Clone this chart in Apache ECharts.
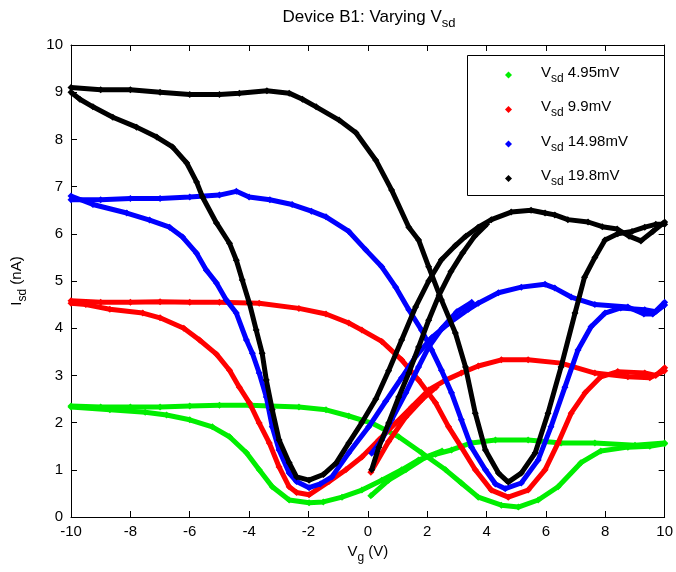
<!DOCTYPE html>
<html>
<head>
<meta charset="utf-8">
<script src="https://cdn.jsdelivr.net/npm/echarts@6/dist/echarts.min.js"></script>
<style>html,body{margin:0;padding:0;background:#fff;}#c{width:676px;height:572px;}</style>
</head>
<body>
<div id="c"></div>
<script>
// ---- data ----
const xTicks = [-10, -8, -6, -4, -2, 0, 2, 4, 6, 8, 10];
const vsdLabels = ['4.95mV', '9.9mV', '14.98mV', '19.8mV'];
const seriesColors = ['#00ee00', '#ff0000', '#0000ff', '#000000'];

// green, Vsd 4.95 mV
const greenSweepA = [[-10,2.35],[-9,2.33],[-8,2.33],[-7,2.33],[-6,2.35],[-5,2.37],[-3.99,2.37],[-2.32,2.33],[-1.41,2.27],[-0.64,2.14],[0.13,1.99],[1.04,1.7],[1.81,1.36],[2.62,1.0],[3.15,0.72],[3.72,0.42],[4.5,0.25],[5.07,0.21],[5.74,0.36],[6.41,0.64],[7.18,1.15],[7.85,1.4],[8.76,1.48],[9.5,1.5],[10,1.55]];
const greenSweepB = [[10,1.57],[9,1.52],[7.65,1.57],[6.51,1.57],[5.4,1.63],[4.3,1.63],[3.49,1.57],[2.82,1.42],[2.28,1.33],[1.71,1.21],[1.14,1.0],[0.47,0.78],[-0.2,0.57],[-0.87,0.42],[-1.5,0.32],[-1.98,0.3],[-2.65,0.36],[-3.22,0.64],[-3.66,1.0],[-4.09,1.36],[-4.66,1.7],[-5.24,1.91],[-6.0,2.06],[-6.78,2.16],[-7.5,2.22],[-8.69,2.27],[-10,2.33]];
const greenStart = [[0.1,0.45],[0.7,0.78],[1.28,1.0],[1.95,1.27],[2.5,1.4]];

// red, Vsd 9.9 mV
const redSweepA = [[-10,4.58],[-9,4.55],[-8,4.55],[-7,4.56],[-6,4.55],[-5,4.55],[-3.66,4.53],[-2.32,4.42],[-1.41,4.3],[-0.64,4.11],[-0.2,3.96],[0.47,3.72],[1.14,3.33],[1.71,2.9],[2.28,2.42],[2.72,1.91],[3.15,1.48],[3.62,1.0],[4.16,0.57],[4.73,0.42],[5.4,0.57],[5.97,1.0],[6.41,1.57],[6.85,2.2],[7.32,2.63],[7.85,2.97],[8.42,3.08],[9.33,3.05],[9.7,3.0],[10,3.16]];
const redSweepB = [[10,3.1],[9.5,2.95],[8.76,2.97],[7.65,3.05],[6.51,3.26],[5.4,3.33],[4.5,3.33],[3.72,3.2],[3.15,3.05],[2.62,2.9],[2.05,2.69],[1.48,2.33],[0.94,1.99],[0.37,1.63],[-0.2,1.27],[-0.74,1.0],[-1.31,0.75],[-1.98,0.47],[-2.4,0.52],[-2.65,0.64],[-2.99,1.06],[-3.32,1.57],[-3.66,1.99],[-3.99,2.42],[-4.33,2.75],[-4.66,3.11],[-5.1,3.45],[-5.67,3.75],[-6.2,4.0],[-7.0,4.22],[-7.58,4.32],[-8.69,4.4],[-9.5,4.5],[-10,4.53]];
const redStart = [[0.1,0.95],[0.7,1.6],[1.28,2.12],[1.81,2.48],[2.3,2.75]];

// blue, Vsd 14.98 mV
const blueSweepA = [[-10,6.72],[-9,6.72],[-8,6.75],[-7,6.75],[-6,6.78],[-5,6.82],[-4.43,6.9],[-4,6.78],[-3.3,6.72],[-2.55,6.62],[-1.9,6.48],[-1.41,6.36],[-0.64,6.05],[-0.07,5.66],[0.47,5.3],[0.94,4.87],[1.38,4.39],[1.81,3.96],[2.15,3.54],[2.48,3.11],[2.82,2.63],[3.15,2.06],[3.49,1.48],[3.96,1.0],[4.3,0.7],[4.63,0.6],[5.17,0.72],[5.74,1.21],[6.17,1.91],[6.64,2.75],[7.08,3.54],[7.52,4.03],[7.99,4.32],[8.52,4.43],[9.33,4.39],[9.7,4.35],[10,4.49]];
const blueSweepB = [[10,4.55],[9.6,4.3],[9.3,4.3],[8.76,4.45],[7.65,4.5],[6.85,4.66],[6.3,4.85],[5.97,4.93],[5.17,4.87],[4.4,4.75],[3.72,4.53],[3.39,4.4],[2.72,4.1],[2.15,3.8],[1.61,3.4],[1.14,2.95],[0.6,2.45],[0.03,1.91],[-0.64,1.36],[-1.21,0.85],[-1.6,0.7],[-1.98,0.62],[-2.4,0.75],[-2.65,0.93],[-2.99,1.42],[-3.22,1.91],[-3.42,2.54],[-3.66,3.05],[-3.89,3.47],[-4.09,3.75],[-4.43,4.32],[-4.77,4.6],[-5.1,4.96],[-5.44,5.23],[-5.77,5.59],[-6.24,5.93],[-6.68,6.14],[-7.35,6.29],[-8.12,6.44],[-9.26,6.62],[-10,6.8]];
const blueStart = [[0.13,1.35],[0.47,1.63],[0.8,2.06],[1.28,2.63],[1.71,3.18],[2.05,3.6],[2.5,4.0],[3.0,4.35],[3.5,4.55]];

// black, Vsd 19.8 mV
const blackSweepA = [[-10,9.1],[-9,9.05],[-8,9.05],[-7,9.0],[-6,8.95],[-5,8.95],[-4.33,8.98],[-3.4,9.03],[-2.65,8.98],[-2.2,8.85],[-1.74,8.69],[-0.97,8.41],[-0.4,8.14],[0.27,7.56],[0.8,6.93],[1.38,6.14],[1.71,5.87],[2.05,5.3],[2.48,4.6],[2.95,3.9],[3.29,3.18],[3.62,2.2],[3.96,1.42],[4.4,0.93],[4.73,0.74],[5.17,0.93],[5.64,1.36],[6.07,2.2],[6.51,3.18],[6.98,4.32],[7.3,5.08],[7.65,5.5],[7.99,5.87],[8.42,6.0],[8.9,6.05],[9.33,6.14],[9.7,6.2],[10,6.2]];
const blackSweepB = [[10,6.25],[9.6,6.05],[9.2,5.85],[8.8,5.95],[8.4,6.1],[7.9,6.15],[7.42,6.25],[6.74,6.3],[6.3,6.4],[5.97,6.44],[5.5,6.5],[4.83,6.46],[4.16,6.3],[3.72,6.14],[3.3,5.95],[2.95,5.75],[2.48,5.45],[2.05,5.0],[1.61,4.45],[1.14,3.75],[0.7,3.1],[0.27,2.5],[-0.2,2.0],[-0.64,1.57],[-1.07,1.14],[-1.5,0.9],[-1.98,0.78],[-2.4,0.85],[-2.65,1.15],[-2.99,1.63],[-3.22,2.27],[-3.42,2.9],[-3.56,3.47],[-3.76,3.96],[-3.99,4.53],[-4.23,5.02],[-4.43,5.44],[-4.66,5.8],[-5.1,6.23],[-5.57,6.78],[-5.77,7.1],[-6.1,7.5],[-6.58,7.84],[-7.11,8.05],[-7.79,8.26],[-8.59,8.47],[-9.26,8.69],[-9.7,8.85],[-10,9.0]];
const blackStart = [[0.13,1.0],[0.37,1.48],[0.7,1.99],[1.04,2.54],[1.38,3.05],[1.71,3.6],[2.05,4.17],[2.4,4.7],[2.8,5.2],[3.2,5.6],[3.6,5.95],[4.0,6.2]];

const branches = [
  [greenSweepA, greenSweepB, greenStart],
  [redSweepA, redSweepB, redStart],
  [blueSweepA, blueSweepB, blueStart],
  [blackSweepA, blackSweepB, blackStart]
];

// ---- chart ----
const FONT = 'Liberation Sans, Arial, Helvetica, sans-serif';
const names = vsdLabels.map(l => 'Vsd ' + l);
const series = [];
branches.forEach((set, i) => {
  set.forEach(d => {
    series.push({
      type: 'line', name: names[i], data: d,
      symbol: 'diamond', symbolSize: 7, showSymbol: true,
      itemStyle: {color: seriesColors[i]},
      lineStyle: {color: seriesColors[i], width: 5},
      z: 2 + i, animation: false, silent: true
    });
  });
});

const richSub = {
  v: {fontSize: 15, fontFamily: FONT, color: '#000', padding: [0, 0, 5, 0]},
  s: {fontSize: 12, fontFamily: FONT, color: '#000', padding: [7, 0, 0, 0]}
};
const axisCommon = {
  type: 'value',
  axisLine: {show: true, onZero: false, lineStyle: {color: '#000', width: 1}},
  axisTick: {show: true, inside: true, length: 6, lineStyle: {color: '#000'}},
  splitLine: {show: false}
};

const chart = echarts.init(document.getElementById('c'), null, {renderer: 'canvas'});
chart.setOption({
  backgroundColor: '#fff',
  animation: false,
  grid: {left: 71, right: 9, top: 45, bottom: 55},
  xAxis: [
    Object.assign({}, axisCommon, {
      min: xTicks[0], max: xTicks[xTicks.length - 1], interval: 2, position: 'bottom',
      axisLabel: {fontSize: 15, fontFamily: FONT, color: '#000', margin: 7},
      name: '{v|V}{s|g}{v| (V)}', nameLocation: 'middle', nameGap: 25,
      nameTextStyle: {rich: richSub}
    }),
    Object.assign({}, axisCommon, {
      min: -10, max: 10, interval: 2, position: 'top', axisLabel: {show: false}
    })
  ],
  yAxis: [
    Object.assign({}, axisCommon, {
      min: 0, max: 10, interval: 1, position: 'left',
      axisLabel: {fontSize: 15, fontFamily: FONT, color: '#000', margin: 8},
      name: '{v|I}{s|sd}{v| (nA)}', nameLocation: 'middle', nameGap: 42,
      nameTextStyle: {rich: richSub}
    }),
    Object.assign({}, axisCommon, {
      min: 0, max: 10, interval: 1, position: 'right', axisLabel: {show: false}
    })
  ],
  legend: {
    show: true, orient: 'vertical', left: 500, top: 60,
    icon: 'diamond', itemWidth: 7, itemHeight: 7, itemGap: 15,
    data: names, selectedMode: false, z: 10,
    formatter: function (n) {
      const i = names.indexOf(n);
      return '{gap|}{v|V}{s|sd}{v| ' + vsdLabels[i] + '}';
    },
    textStyle: {rich: Object.assign({gap: {width: 24}}, richSub)}
  },
  graphic: [
    {type: 'rect', shape: {x: 467.5, y: 55.5, width: 197, height: 140}, style: {fill: '#fff', stroke: '#000', lineWidth: 1}, z: 5},
    {type: 'text', x: 369, y: 20, z: 10,
      style: {text: '{t|Device B1: Varying V}{s|sd}', align: 'center', verticalAlign: 'middle',
        rich: {t: {fontSize: 17, fontFamily: FONT, color: '#000', padding: [0,0,5,0]}, s: {fontSize: 13, fontFamily: FONT, color: '#000', padding: [7,0,0,0]}}}}
  ],
  series: series
});
</script>
</body>
</html>
